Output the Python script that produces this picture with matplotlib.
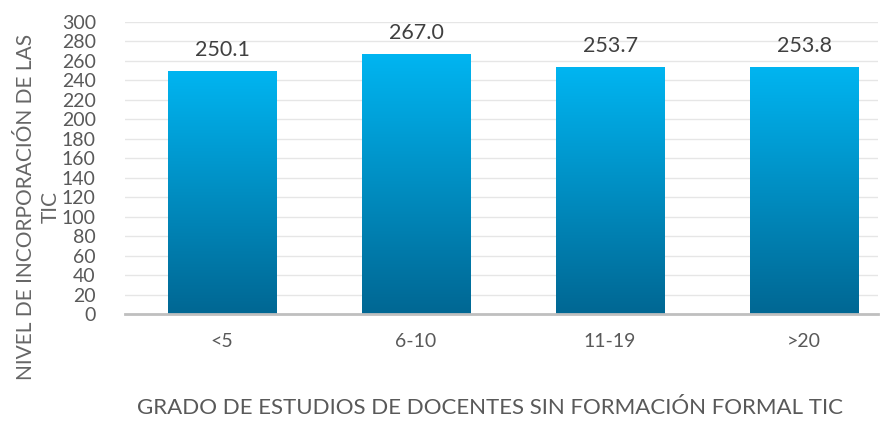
import numpy as np
import matplotlib
matplotlib.use("Agg")
import matplotlib.pyplot as plt
from matplotlib.colors import LinearSegmentedColormap

categorias = ["<5", "6-10", "11-19", ">20"]
valores = [250.1, 267.0, 253.7, 253.8]
ticks_y = list(range(0, 301, 20))

plt.rcParams['font.family'] = ['Lato', 'DejaVu Sans']

fig = plt.figure(figsize=(8.9, 4.22), dpi=100)
ax = fig.add_axes([0.1404, 0.2559, 0.8461, 0.692])

cmap = LinearSegmentedColormap.from_list("azul", ["#006793", "#00B5F1"])
grad = np.linspace(0, 1, 256).reshape(-1, 1)

ancho = 0.56
x = np.arange(len(categorias))
barras = ax.bar(x, valores, width=ancho, color="none", zorder=2)
for b, v in zip(barras, valores):
    x0 = b.get_x()
    im = ax.imshow(grad, cmap=cmap, origin="lower", aspect="auto",
                   extent=[x0, x0 + ancho, 0, v], zorder=2)
    im.set_clip_path(b)
    ax.text(b.get_x() + ancho / 2, v + 11, f"{v:.1f}", ha="center", va="bottom",
            fontsize=15.5, color="#404040")

ax.set_xlim(-0.5, 3.38)
ax.set_ylim(0, 300)
ax.set_yticks(ticks_y)
ax.set_xticks(x)
ax.set_xticklabels(categorias)
ax.tick_params(axis="both", length=0, labelsize=14, labelcolor="#595959")
ax.tick_params(axis="x", pad=14)
ax.tick_params(axis="y", pad=21)
ax.yaxis.grid(True, color="#E6E6E6", linewidth=1, zorder=0)
ax.set_axisbelow(True)
for s in ["top", "right", "left"]:
    ax.spines[s].set_visible(False)
ax.spines["bottom"].set_color("#BFBFBF")
ax.spines["bottom"].set_linewidth(2)
ax.spines["bottom"].set_zorder(3)

fig.text(0.043, 0.51, "NIVEL DE INCORPORACIÓN DE LAS\nTIC", rotation=90,
         ha="center", va="center", fontsize=15, color="#666666",
         multialignment="center", linespacing=1.3)
fig.text(0.551, 0.01,
         "GRADO DE ESTUDIOS DE DOCENTES SIN FORMACIÓN FORMAL TIC",
         ha="center", va="bottom", fontsize=16, color="#595959")

fig.savefig("out.png", dpi=100)
